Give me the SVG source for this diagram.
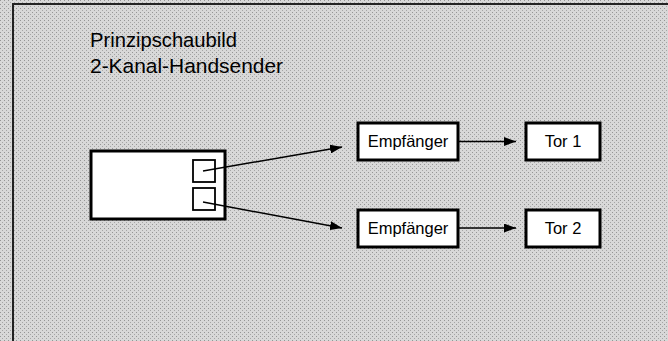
<svg xmlns="http://www.w3.org/2000/svg" width="668" height="341" viewBox="0 0 668 341">
<defs>
<style>
.box{fill:#fff;stroke:#000;stroke-width:3}
.sbox{fill:#fff;stroke:#000;stroke-width:1.8}
.lbl{font-family:"Liberation Sans",Arial,sans-serif;font-size:16.5px;fill:#000;text-anchor:middle}
.title{font-family:"Liberation Sans",Arial,sans-serif;font-size:20.5px;fill:#000}
.conn{stroke:#000;stroke-width:1.5;fill:none;marker-end:url(#ah)}
</style>
<marker id="ah" markerWidth="12" markerHeight="9" refX="12" refY="4.5" orient="auto" markerUnits="userSpaceOnUse">
<path d="M0,0 L12,4.5 L0,9 Z" fill="#000"/>
</marker>
<pattern id="tex" width="4" height="4" patternUnits="userSpaceOnUse">
<rect width="4" height="4" fill="#d8d8d8"/>
<rect x="0" y="0" width="1" height="1" fill="#959595"/>
<rect x="2" y="2" width="1" height="1" fill="#a5a5a5"/>
</pattern>
</defs>
<rect x="0" y="0" width="668" height="341" fill="url(#tex)"/>
<path d="M13,341 L13,4 L668,4" fill="none" stroke="#222" stroke-width="2"/>
<g id="title">
<text class="title" x="90" y="47" textLength="147" lengthAdjust="spacingAndGlyphs">Prinzipschaubild</text>
<text class="title" x="90" y="73" textLength="193" lengthAdjust="spacingAndGlyphs">2-Kanal-Handsender</text>
</g>
<g id="sender">
<rect class="box" x="91" y="151" width="134" height="68"/>
<rect class="sbox" x="193" y="160" width="22" height="22"/>
<rect class="sbox" x="193" y="188" width="22" height="22"/>
</g>
<g id="empf1">
<rect class="box" x="358" y="123" width="100" height="37"/>
<text class="lbl" x="408" y="147">Empfänger</text>
</g>
<g id="empf2">
<rect class="box" x="358" y="210" width="100" height="37"/>
<text class="lbl" x="408" y="234">Empfänger</text>
</g>
<g id="tor1">
<rect class="box" x="526" y="123" width="74" height="37"/>
<text class="lbl" x="563" y="147">Tor 1</text>
</g>
<g id="tor2">
<rect class="box" x="526" y="210" width="74" height="37"/>
<text class="lbl" x="563" y="234">Tor 2</text>
</g>
<g id="connectors">
<line class="conn" x1="203" y1="171" x2="342" y2="147"/>
<line class="conn" x1="203" y1="202" x2="342" y2="228"/>
<line class="conn" x1="459" y1="141.5" x2="516" y2="141.5"/>
<line class="conn" x1="459" y1="228" x2="516" y2="228"/>
</g>
</svg>
